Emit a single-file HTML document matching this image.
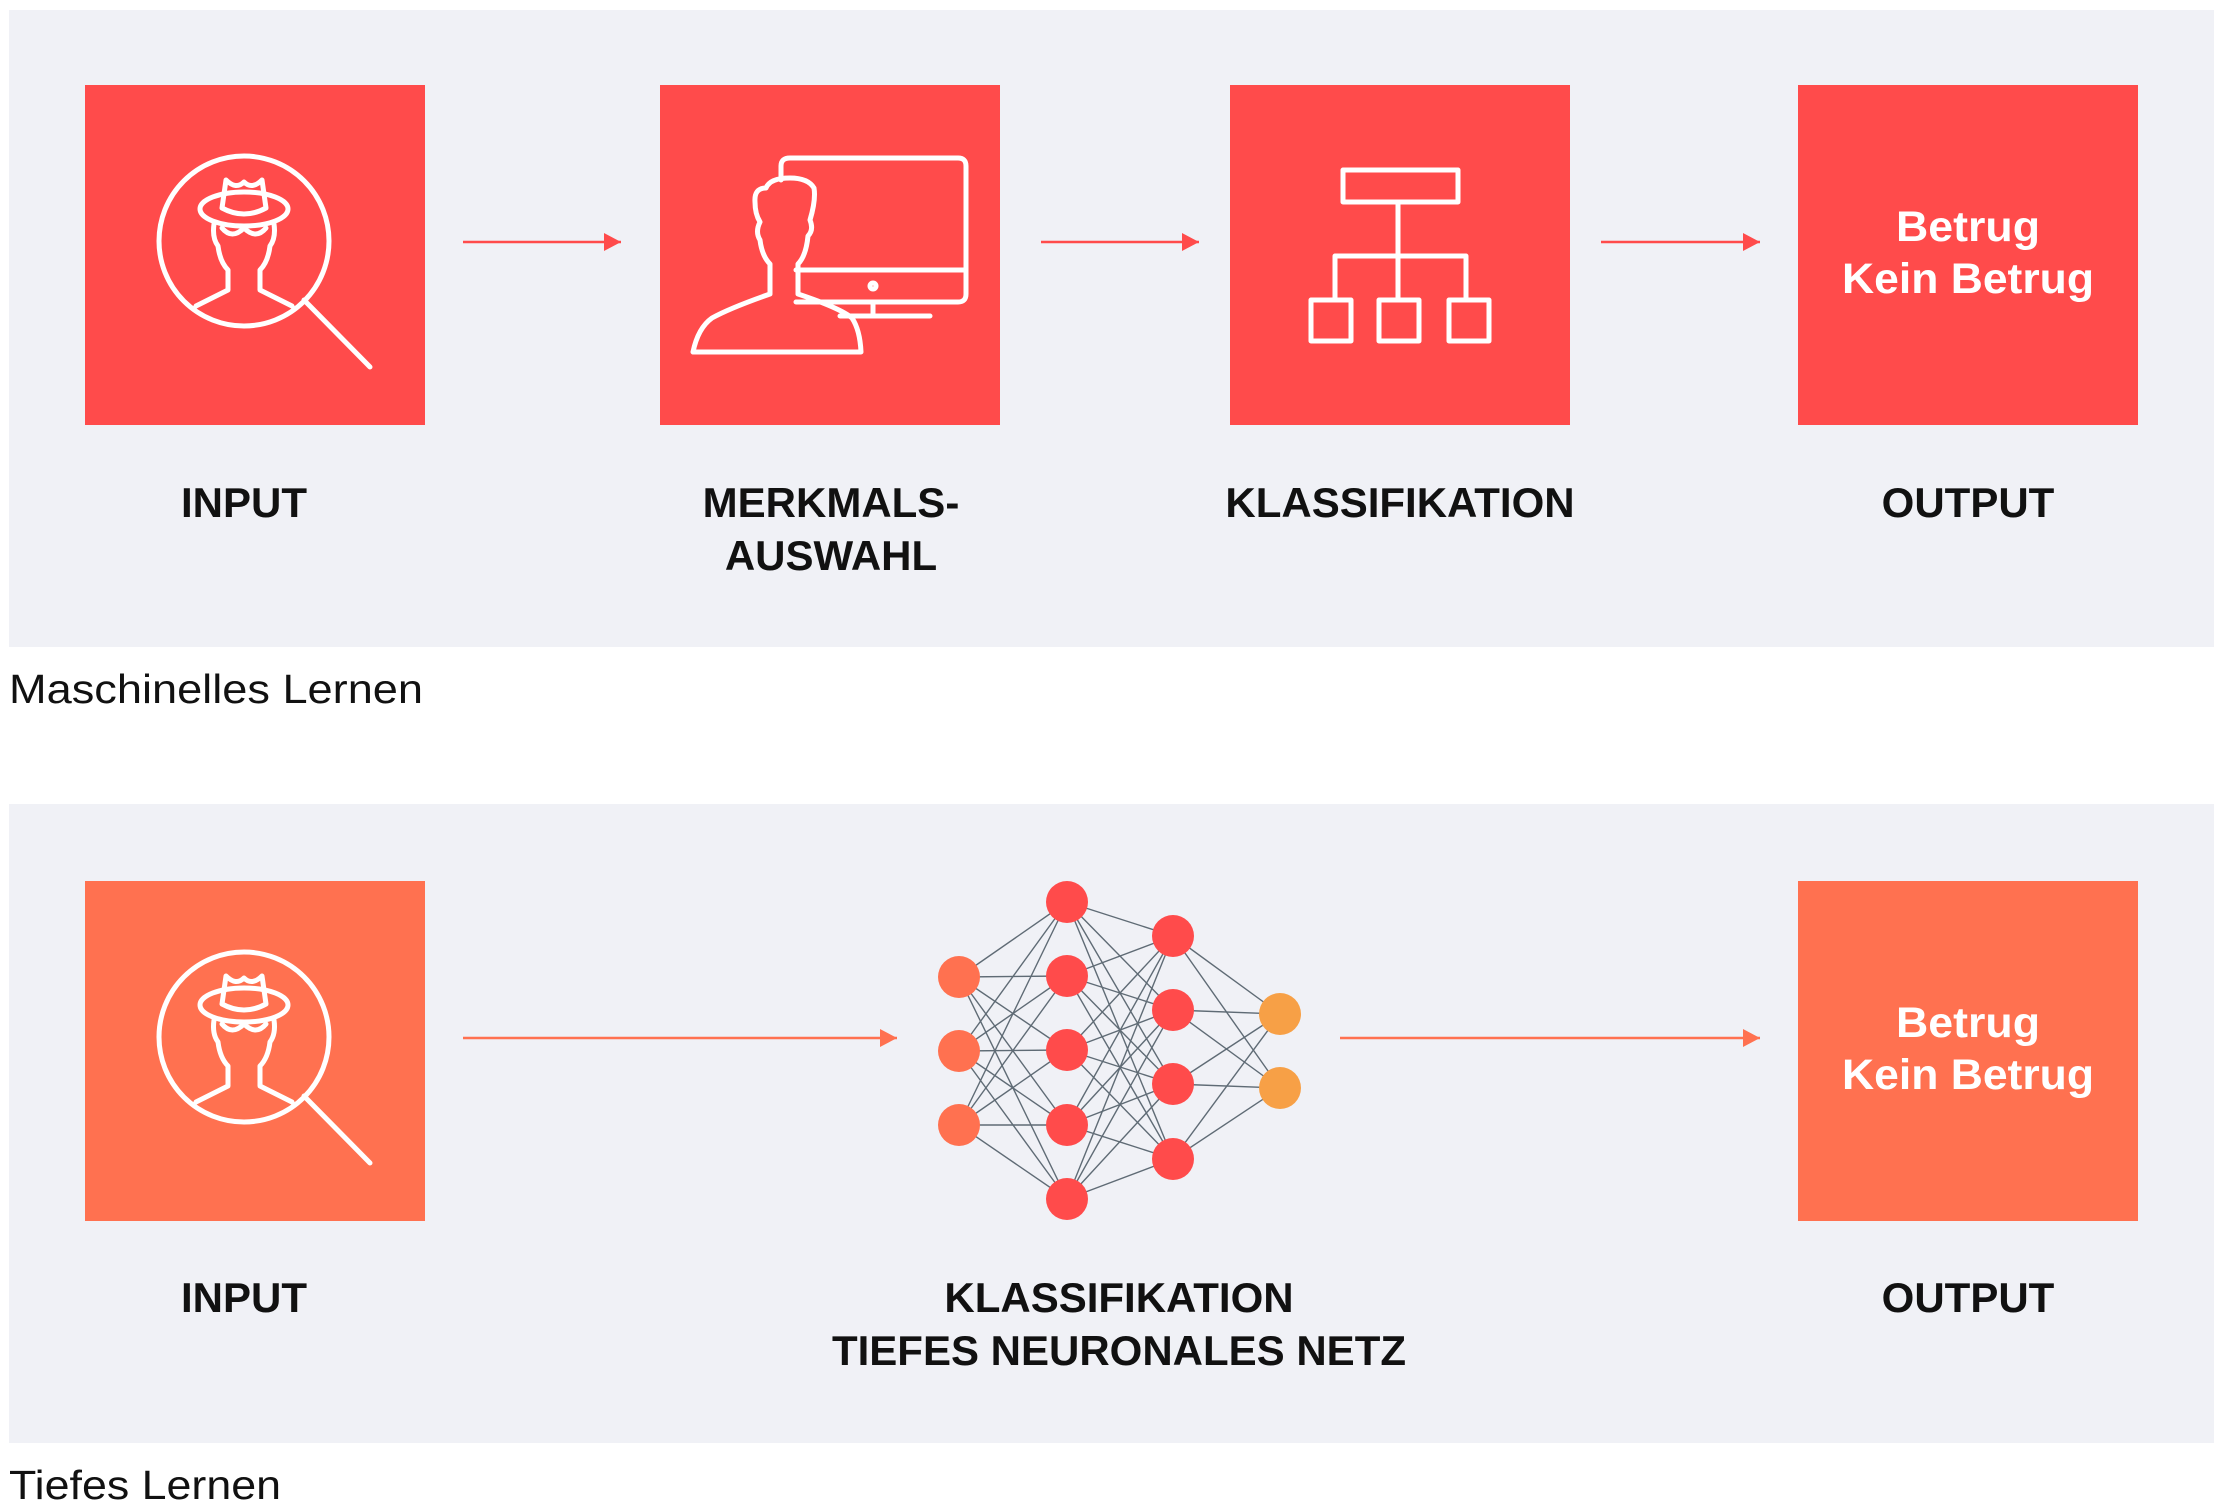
<!DOCTYPE html>
<html><head><meta charset="utf-8"><style>
html,body{margin:0;padding:0;background:#fff;width:2220px;height:1511px;overflow:hidden}
svg{display:block}
text{font-family:"Liberation Sans",sans-serif}
.lb{font-weight:bold;font-size:42px;fill:#111;text-anchor:middle}
.bx{font-weight:bold;font-size:43px;fill:#fff;text-anchor:middle}
.cap{font-size:41px;fill:#111}
.ic{fill:none;stroke:#fff;stroke-width:5;stroke-linecap:round;stroke-linejoin:round}
.nn line{stroke:#5f6b75;stroke-width:1.4}
</style></head><body>
<svg width="2220" height="1511" viewBox="0 0 2220 1511">
<defs>
<marker id="ao" markerWidth="18" markerHeight="18" refX="17" refY="9" orient="auto" markerUnits="userSpaceOnUse"><path d="M0,0 L17,9 L0,18z" fill="#ff7150"/></marker>
<marker id="ar2" markerWidth="18" markerHeight="18" refX="17" refY="9" orient="auto" markerUnits="userSpaceOnUse"><path d="M0,0 L17,9 L0,18z" fill="#ff4b4b"/></marker>
<g id="det" class="ic">
<circle cx="244" cy="241" r="85"/>
<line x1="304" y1="300" x2="370" y2="367"/>
<ellipse cx="244" cy="209" rx="44" ry="17"/>
<path d="M222,208 L226,180 Q236,190 244,182 Q252,190 262,180 L266,208 Q244,220 222,208"/>
<path d="M214,224 Q212,238 218,246 Q220,262 228,270 L228,290 L196,306"/>
<path d="M274,224 Q276,238 270,246 Q268,262 260,270 L260,290 L292,306"/>
<path d="M222,228 Q232,240 244,228 Q256,240 266,228"/>
</g>
</defs>
<rect x="9" y="10" width="2205" height="637" fill="#f0f1f6"/>
<rect x="85" y="85" width="340" height="340" fill="#ff4b4b"/>
<rect x="660" y="85" width="340" height="340" fill="#ff4b4b"/>
<rect x="1230" y="85" width="340" height="340" fill="#ff4b4b"/>
<rect x="1798" y="85" width="340" height="340" fill="#ff4b4b"/>
<use href="#det"/>
<g class="ic">
<path d="M781,180 L781,166 Q781,158 790,158 L958,158 Q966,158 966,166 L966,294 Q966,302 958,302 L796,302"/>
<line x1="796" y1="270" x2="966" y2="270"/>
<circle cx="873" cy="286" r="3"/>
<path d="M873,302 L873,316 M840,316 L930,316"/>
<path d="M693,352 L861,352 Q860,330 852,318 Q840,308 798,294 L798,264 Q806,256 808,236 Q814,230 810,220 Q816,200 814,188 Q808,178 790,178 Q770,178 766,188 Q754,188 755,202 Q755,214 760,222 Q755,232 760,240 Q762,256 770,264 L770,294 Q730,308 712,318 Q698,328 693,352z"/>
</g>
<g class="ic">
<rect x="1343" y="170" width="115" height="32"/>
<path d="M1398,202 L1398,300 M1335,300 L1335,256 L1466,256 L1466,300"/>
<rect x="1311" y="300" width="40" height="41"/>
<rect x="1379" y="300" width="40" height="41"/>
<rect x="1449" y="300" width="40" height="41"/>
</g>
<text class="bx" x="1968" y="241" textLength="144" lengthAdjust="spacingAndGlyphs">Betrug</text>
<text class="bx" x="1968" y="293" textLength="252" lengthAdjust="spacingAndGlyphs">Kein Betrug</text>
<line x1="463" y1="242" x2="621" y2="242" stroke="#ff4b4b" stroke-width="2.5" marker-end="url(#ar2)"/>
<line x1="1041" y1="242" x2="1199" y2="242" stroke="#ff4b4b" stroke-width="2.5" marker-end="url(#ar2)"/>
<line x1="1601" y1="242" x2="1760" y2="242" stroke="#ff4b4b" stroke-width="2.5" marker-end="url(#ar2)"/>
<text class="lb" x="244" y="517">INPUT</text>
<text class="lb" x="831" y="517">MERKMALS-</text>
<text class="lb" x="831" y="570">AUSWAHL</text>
<text class="lb" x="1400" y="517">KLASSIFIKATION</text>
<text class="lb" x="1968" y="517">OUTPUT</text>
<text class="cap" x="9" y="703" textLength="414" lengthAdjust="spacingAndGlyphs">Maschinelles Lernen</text>
<rect x="9" y="804" width="2205" height="639" fill="#f0f1f6"/>
<rect x="85" y="881" width="340" height="340" fill="#ff7150"/>
<rect x="1798" y="881" width="340" height="340" fill="#ff7150"/>
<use href="#det" transform="translate(0,796)"/>
<text class="bx" x="1968" y="1037" textLength="144" lengthAdjust="spacingAndGlyphs">Betrug</text>
<text class="bx" x="1968" y="1089" textLength="252" lengthAdjust="spacingAndGlyphs">Kein Betrug</text>
<line x1="463" y1="1038" x2="897" y2="1038" stroke="#ff7150" stroke-width="2.5" marker-end="url(#ao)"/>
<line x1="1340" y1="1038" x2="1760" y2="1038" stroke="#ff7150" stroke-width="2.5" marker-end="url(#ao)"/>
<text class="lb" x="1119" y="1312">KLASSIFIKATION</text>
<text class="lb" x="1119" y="1365">TIEFES NEURONALES NETZ</text>
<text class="lb" x="244" y="1312">INPUT</text>
<text class="lb" x="1968" y="1312">OUTPUT</text>
<text class="cap" x="9" y="1499" textLength="272" lengthAdjust="spacingAndGlyphs">Tiefes Lernen</text>
<g class="nn">
<line x1="959" y1="977" x2="1067" y2="902"/><line x1="959" y1="977" x2="1067" y2="976"/><line x1="959" y1="977" x2="1067" y2="1050"/><line x1="959" y1="977" x2="1067" y2="1125"/><line x1="959" y1="977" x2="1067" y2="1199"/>
<line x1="959" y1="1051" x2="1067" y2="902"/><line x1="959" y1="1051" x2="1067" y2="976"/><line x1="959" y1="1051" x2="1067" y2="1050"/><line x1="959" y1="1051" x2="1067" y2="1125"/><line x1="959" y1="1051" x2="1067" y2="1199"/>
<line x1="959" y1="1125" x2="1067" y2="902"/><line x1="959" y1="1125" x2="1067" y2="976"/><line x1="959" y1="1125" x2="1067" y2="1050"/><line x1="959" y1="1125" x2="1067" y2="1125"/><line x1="959" y1="1125" x2="1067" y2="1199"/>
<line x1="1067" y1="902" x2="1173" y2="936"/><line x1="1067" y1="902" x2="1173" y2="1010"/><line x1="1067" y1="902" x2="1173" y2="1084"/><line x1="1067" y1="902" x2="1173" y2="1159"/>
<line x1="1067" y1="976" x2="1173" y2="936"/><line x1="1067" y1="976" x2="1173" y2="1010"/><line x1="1067" y1="976" x2="1173" y2="1084"/><line x1="1067" y1="976" x2="1173" y2="1159"/>
<line x1="1067" y1="1050" x2="1173" y2="936"/><line x1="1067" y1="1050" x2="1173" y2="1010"/><line x1="1067" y1="1050" x2="1173" y2="1084"/><line x1="1067" y1="1050" x2="1173" y2="1159"/>
<line x1="1067" y1="1125" x2="1173" y2="936"/><line x1="1067" y1="1125" x2="1173" y2="1010"/><line x1="1067" y1="1125" x2="1173" y2="1084"/><line x1="1067" y1="1125" x2="1173" y2="1159"/>
<line x1="1067" y1="1199" x2="1173" y2="936"/><line x1="1067" y1="1199" x2="1173" y2="1010"/><line x1="1067" y1="1199" x2="1173" y2="1084"/><line x1="1067" y1="1199" x2="1173" y2="1159"/>
<line x1="1173" y1="936" x2="1280" y2="1014"/><line x1="1173" y1="936" x2="1280" y2="1088"/>
<line x1="1173" y1="1010" x2="1280" y2="1014"/><line x1="1173" y1="1010" x2="1280" y2="1088"/>
<line x1="1173" y1="1084" x2="1280" y2="1014"/><line x1="1173" y1="1084" x2="1280" y2="1088"/>
<line x1="1173" y1="1159" x2="1280" y2="1014"/><line x1="1173" y1="1159" x2="1280" y2="1088"/>
</g>
<g fill="#ff7150"><circle cx="959" cy="977" r="21"/><circle cx="959" cy="1051" r="21"/><circle cx="959" cy="1125" r="21"/></g>
<g fill="#ff4b4b"><circle cx="1067" cy="902" r="21"/><circle cx="1067" cy="976" r="21"/><circle cx="1067" cy="1050" r="21"/><circle cx="1067" cy="1125" r="21"/><circle cx="1067" cy="1199" r="21"/>
<circle cx="1173" cy="936" r="21"/><circle cx="1173" cy="1010" r="21"/><circle cx="1173" cy="1084" r="21"/><circle cx="1173" cy="1159" r="21"/></g>
<g fill="#f7a046"><circle cx="1280" cy="1014" r="21"/><circle cx="1280" cy="1088" r="21"/></g>
</svg>
</body></html>
